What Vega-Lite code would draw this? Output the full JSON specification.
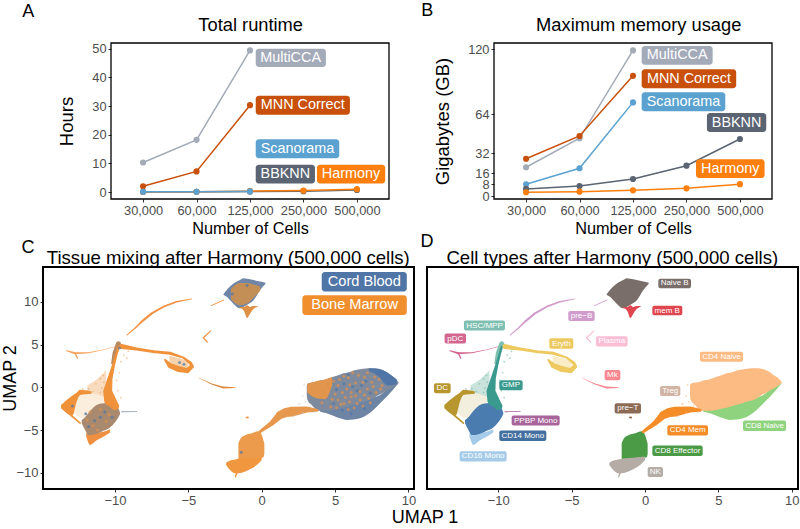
{
"$schema":"https://vega.github.io/schema/vega-lite/v6.json",
"width":800,"height":529,"autosize":"none","padding":0,
"config":{"font":"Liberation Sans","view":{"stroke":null},"axis":{"grid":false,"domain":false,"tickColor":"#333333","tickSize":3,"labelColor":"#4d4d4d","titleColor":"#000000","titleFontWeight":"normal","labelOverlap":false}},
"background":"white",
"datasets":{
"umapAreas":[
{"r":"Fan","x":-11.9,"y":0.2,"y2":-0.5},{"r":"Fan","x":-11.2,"y":1.0,"y2":-1.1},{"r":"Fan","x":-10.6,"y":2.0,"y2":-1.1},
{"r":"Inner","x":-12.8,"y":-1.0,"y2":-3.0},{"r":"Inner","x":-12.2,"y":-0.6,"y2":-3.6},{"r":"Inner","x":-11.5,"y":-0.7,"y2":-3.2},{"r":"Inner","x":-11,"y":-1,"y2":-2.2},{"r":"Inner","x":-10.7,"y":-1.2,"y2":-1.6},
{"r":"EryIn","x":-6.3,"y":3.7,"y2":2.9},{"r":"EryIn","x":-5.6,"y":3.4,"y2":2.4},{"r":"EryIn","x":-5,"y":3.0,"y2":2.2},
{"r":"DC","x":-13.68,"y":-2.07,"y2":-2.46},{"r":"DC","x":-13.3,"y":-1.48,"y2":-3.0},{"r":"DC","x":-12.9,"y":-0.95,"y2":-3.3},{"r":"DC","x":-12.6,"y":-0.6,"y2":-1.6},{"r":"DC","x":-12.38,"y":-0.3,"y2":-0.9},{"r":"DC","x":-11.6,"y":-0.5,"y2":-0.75},
{"r":"CD16 Mono","x":-11.97,"y":-5.4,"y2":-5.7},{"r":"CD16 Mono","x":-11.7,"y":-5.3,"y2":-6.74},{"r":"CD16 Mono","x":-11.25,"y":-5.3,"y2":-6.2},{"r":"CD16 Mono","x":-10.8,"y":-5.2,"y2":-5.8},{"r":"CD16 Mono","x":-10.34,"y":-4.9,"y2":-5.3},
{"r":"CD14 Mono","x":-12.27,"y":-3.82,"y2":-4.21},{"r":"CD14 Mono","x":-12.04,"y":-3.5,"y2":-4.99},{"r":"CD14 Mono","x":-11.81,"y":-3.0,"y2":-5.58},{"r":"CD14 Mono","x":-11.59,"y":-2.57,"y2":-5.58},{"r":"CD14 Mono","x":-11.25,"y":-2.07,"y2":-5.45},{"r":"CD14 Mono","x":-10.79,"y":-1.87,"y2":-5.1},{"r":"CD14 Mono","x":-10.34,"y":-1.83,"y2":-4.7},{"r":"CD14 Mono","x":-10,"y":-2.07,"y2":-4.1},{"r":"CD14 Mono","x":-9.77,"y":-2.46,"y2":-3.5},{"r":"CD14 Mono","x":-9.66,"y":-2.97,"y2":-3.12},
{"r":"Naive B","x":-2.61,"y":10.88,"y2":10.8},{"r":"Naive B","x":-2.39,"y":11.38,"y2":10.6},{"r":"Naive B","x":-2.05,"y":11.97,"y2":10.0},{"r":"Naive B","x":-1.7,"y":12.36,"y2":9.4},{"r":"Naive B","x":-1.48,"y":12.55,"y2":9.24},{"r":"Naive B","x":-1.25,"y":12.75,"y2":9.4},{"r":"Naive B","x":-1.02,"y":12.7,"y2":9.63},{"r":"Naive B","x":-0.57,"y":12.55,"y2":10.14},{"r":"Naive B","x":-0.11,"y":12.36,"y2":11.38},{"r":"Naive B","x":0.25,"y":12.24,"y2":12.09},
{"r":"mem B","x":-1.5,"y":9.3,"y2":9.4},{"r":"mem B","x":-1.2,"y":8.9,"y2":9.4},{"r":"mem B","x":-1,"y":8.1,"y2":9.6},{"r":"mem B","x":-0.8,"y":8.6,"y2":9.4},{"r":"mem B","x":-0.6,"y":9.1,"y2":9.5},{"r":"mem B","x":-0.3,"y":9.4,"y2":9.5},
{"r":"CD8 Naive","x":3.98,"y":-2.6,"y2":-2.85},{"r":"CD8 Naive","x":4.43,"y":-2.5,"y2":-3.04},{"r":"CD8 Naive","x":4.88,"y":-2.4,"y2":-3.32},{"r":"CD8 Naive","x":5.34,"y":-2.2,"y2":-3.63},{"r":"CD8 Naive","x":5.79,"y":-2.1,"y2":-3.82},{"r":"CD8 Naive","x":6.25,"y":-1.9,"y2":-3.78},{"r":"CD8 Naive","x":6.7,"y":-1.7,"y2":-3.63},{"r":"CD8 Naive","x":7.16,"y":-1.5,"y2":-3.24},{"r":"CD8 Naive","x":7.61,"y":-1.2,"y2":-2.65},{"r":"CD8 Naive","x":8.07,"y":-0.9,"y2":-1.87},{"r":"CD8 Naive","x":8.52,"y":-0.3,"y2":-1.1},{"r":"CD8 Naive","x":8.98,"y":0.2,"y2":-0.24},{"r":"CD8 Naive","x":9.32,"y":0.5,"y2":0.46},
{"r":"CD4 Naive","x":3.07,"y":0.2,"y2":-0.9},{"r":"CD4 Naive","x":3.12,"y":0.38,"y2":-1.49},{"r":"CD4 Naive","x":3.41,"y":0.55,"y2":-2.07},{"r":"CD4 Naive","x":3.75,"y":0.65,"y2":-2.65},{"r":"CD4 Naive","x":3.98,"y":0.78,"y2":-2.75},{"r":"CD4 Naive","x":4.43,"y":0.93,"y2":-2.75},{"r":"CD4 Naive","x":4.88,"y":1.24,"y2":-2.65},{"r":"CD4 Naive","x":5.11,"y":1.35,"y2":-2.54},{"r":"CD4 Naive","x":5.57,"y":1.63,"y2":-2.4},{"r":"CD4 Naive","x":6.02,"y":1.8,"y2":-2.15},{"r":"CD4 Naive","x":6.25,"y":1.95,"y2":-2.05},{"r":"CD4 Naive","x":6.93,"y":2.18,"y2":-1.68},{"r":"CD4 Naive","x":7.61,"y":2.22,"y2":-1.3},{"r":"CD4 Naive","x":7.84,"y":2.2,"y2":-1.02},{"r":"CD4 Naive","x":8.3,"y":1.95,"y2":-0.6},{"r":"CD4 Naive","x":8.52,"y":1.75,"y2":-0.39},{"r":"CD4 Naive","x":8.75,"y":1.44,"y2":-0.15},{"r":"CD4 Naive","x":8.98,"y":1.2,"y2":0.07},{"r":"CD4 Naive","x":9.09,"y":1.05,"y2":0.2},{"r":"CD4 Naive","x":9.32,"y":0.6,"y2":0.46},
{"r":"CD8 Effector","x":-1.59,"y":-6.55,"y2":-8.5},{"r":"CD8 Effector","x":-1.43,"y":-5.97,"y2":-8.5},{"r":"CD8 Effector","x":-1.13,"y":-5.62,"y2":-8.45},{"r":"CD8 Effector","x":-0.68,"y":-5.38,"y2":-8.35},{"r":"CD8 Effector","x":-0.23,"y":-5.15,"y2":-8.3},{"r":"CD8 Effector","x":0,"y":-5.58,"y2":-8.25},{"r":"CD8 Effector","x":0.11,"y":-6.16,"y2":-8.2},{"r":"CD8 Effector","x":0.18,"y":-6.6,"y2":-7.8},
{"r":"NK","x":-2.43,"y":-8.82,"y2":-9.09},{"r":"NK","x":-2.16,"y":-8.58,"y2":-9.67},{"r":"NK","x":-1.82,"y":-8.45,"y2":-10.06},{"r":"NK","x":-1.36,"y":-8.3,"y2":-9.99},{"r":"NK","x":-0.79,"y":-8.23,"y2":-9.6},{"r":"NK","x":-0.34,"y":-8.15,"y2":-9.1},{"r":"NK","x":0,"y":-8.11,"y2":-8.5}
],
"umapTrails":[
{"t":"preB1","r":"pre-B","o":1,"x":-4.77,"y":10.33,"w":0.8},{"t":"preB1","r":"pre-B","o":2,"x":-5.8,"y":10.0,"w":1.5},{"t":"preB1","r":"pre-B","o":3,"x":-6.7,"y":9.43,"w":1.8},{"t":"preB1","r":"pre-B","o":4,"x":-7.5,"y":8.65,"w":2.2},{"t":"preB1","r":"pre-B","o":5,"x":-8.18,"y":7.68,"w":2},{"t":"preB1","r":"pre-B","o":6,"x":-8.64,"y":6.9,"w":1.3},{"t":"preB1","r":"pre-B","o":7,"x":-9.2,"y":6.1,"w":0.8},
{"t":"preB2","r":"pre-B","o":1,"x":-3.45,"y":9.55,"w":0.8},{"t":"preB2","r":"pre-B","o":2,"x":-2.6,"y":10.2,"w":1},
{"t":"Plasma","r":"Plasma","o":1,"x":-3.48,"y":6.6,"w":1},{"t":"Plasma","r":"Plasma","o":2,"x":-3.98,"y":5.8,"w":1.3},{"t":"Plasma","r":"Plasma","o":3,"x":-3.68,"y":5.26,"w":1},
{"t":"Mk","r":"Mk","o":1,"x":-4.3,"y":1.1,"w":0.4},{"t":"Mk","r":"Mk","o":2,"x":-3.41,"y":0.39,"w":1},{"t":"Mk","r":"Mk","o":3,"x":-2.61,"y":-0.04,"w":2},{"t":"Mk","r":"Mk","o":4,"x":-1.82,"y":-0.04,"w":0.8},
{"t":"preT","r":"pre-T","o":1,"x":-1.05,"y":-3.55,"w":1.5},{"t":"preT","r":"pre-T","o":2,"x":-0.95,"y":-3.55,"w":2},
{"t":"pDC1","r":"pDC","o":1,"x":-13.3,"y":4.28,"w":1},{"t":"pDC1","r":"pDC","o":2,"x":-12.72,"y":3.98,"w":2},{"t":"pDC1","r":"pDC","o":3,"x":-11.8,"y":4.05,"w":1},{"t":"pDC1","r":"pDC","o":4,"x":-10.8,"y":4.4,"w":0.5},{"t":"pDC1","r":"pDC","o":5,"x":-9.9,"y":4.8,"w":0.5},
{"t":"pDC2","r":"pDC","o":1,"x":-12.72,"y":3.98,"w":1.5},{"t":"pDC2","r":"pDC","o":2,"x":-12.56,"y":3.39,"w":1.2},
{"t":"HSC","r":"HSC/MPP","o":1,"x":-9.77,"y":5.07,"w":5},{"t":"HSC","r":"HSC/MPP","o":2,"x":-10,"y":3.98,"w":5},{"t":"HSC","r":"HSC/MPP","o":3,"x":-10.2,"y":2.8,"w":2},
{"t":"GMP","r":"GMP","o":1,"x":-9.77,"y":4.75,"w":2},{"t":"GMP","r":"GMP","o":2,"x":-10.1,"y":2.61,"w":3},{"t":"GMP","r":"GMP","o":3,"x":-10.34,"y":1.05,"w":5},{"t":"GMP","r":"GMP","o":4,"x":-10.5,"y":-0.51,"w":9},{"t":"GMP","r":"GMP","o":5,"x":-10.34,"y":-1.49,"w":12},{"t":"GMP","r":"GMP","o":6,"x":-10,"y":-2.19,"w":8},
{"t":"Er1","r":"Eryth","o":1,"x":-9.55,"y":4.76,"w":5},{"t":"Er1","r":"Eryth","o":2,"x":-8.52,"y":4.48,"w":3},{"t":"Er1","r":"Eryth","o":3,"x":-7.39,"y":4.17,"w":3},{"t":"Er1","r":"Eryth","o":4,"x":-6.25,"y":3.98,"w":3},{"t":"Er1","r":"Eryth","o":5,"x":-5.34,"y":3.47,"w":2},{"t":"Er1","r":"Eryth","o":6,"x":-4.84,"y":2.81,"w":3},{"t":"Er1","r":"Eryth","o":7,"x":-4.77,"y":2.42,"w":4},
{"t":"Er2","r":"Eryth","o":1,"x":-6.59,"y":3.2,"w":2},{"t":"Er2","r":"Eryth","o":2,"x":-6.25,"y":2.53,"w":5},{"t":"Er2","r":"Eryth","o":3,"x":-5.68,"y":2.14,"w":6},{"t":"Er2","r":"Eryth","o":4,"x":-5.07,"y":1.95,"w":5},{"t":"Er2","r":"Eryth","o":5,"x":-4.77,"y":2.42,"w":4},
{"t":"PPBP","r":"PPBP Mono","o":1,"x":-9.55,"y":-2.85,"w":1},{"t":"PPBP","r":"PPBP Mono","o":2,"x":-8.5,"y":-2.85,"w":0.8},
{"t":"Mem","r":"CD4 Mem","o":1,"x":-0.11,"y":-5.19,"w":3},{"t":"Mem","r":"CD4 Mem","o":2,"x":0.68,"y":-4.21,"w":5},{"t":"Mem","r":"CD4 Mem","o":3,"x":1.25,"y":-3.24,"w":8},{"t":"Mem","r":"CD4 Mem","o":4,"x":1.65,"y":-2.95,"w":9},{"t":"Mem","r":"CD4 Mem","o":5,"x":2.05,"y":-2.85,"w":10},{"t":"Mem","r":"CD4 Mem","o":6,"x":3.07,"y":-2.6,"w":6},{"t":"Mem","r":"CD4 Mem","o":7,"x":3.75,"y":-2.7,"w":3},
{"t":"NKt","r":"NK","o":1,"x":-1.8,"y":-10.5,"w":1},{"t":"NKt","r":"NK","o":2,"x":-1.7,"y":-10,"w":2},
{"t":"DC2","r":"DC","o":1,"x":-13.4,"y":-2.7,"w":2},{"t":"DC2","r":"DC","o":2,"x":-12.38,"y":-4.2,"w":1.5}
],
"umapDots":[
{"r":"GMP","x":-11.8,"y":-0.2},{"r":"GMP","x":-11.3,"y":0.4},{"r":"GMP","x":-11,"y":-0.6},{"r":"GMP","x":-11,"y":1},{"r":"GMP","x":-10.9,"y":-0.1},{"r":"GMP","x":-10.8,"y":1.4},{"r":"GMP","x":-10.75,"y":0.6},{"r":"GMP","x":-11.5,"y":-0.5},{"r":"GMP","x":-12.2,"y":-0.2},{"r":"GMP","x":-9.4,"y":3.8},{"r":"GMP","x":-9.2,"y":3.4},{"r":"GMP","x":-9.1,"y":4.2},{"r":"GMP","x":-9.6,"y":3},{"r":"GMP","x":-9.7,"y":1.7},{"r":"GMP","x":-9.9,"y":0.8},{"r":"GMP","x":-9.8,"y":-0.4},{"r":"GMP","x":-9.6,"y":-1.2},
{"r":"CD4 Naive","x":2.8,"y":-1},{"r":"CD4 Naive","x":2.6,"y":-1.9},{"r":"CD4 Naive","x":2.9,"y":0.3},{"r":"CD4 Naive","x":3,"y":-1.7},{"r":"CD4 Naive","x":3.3,"y":-2.2},{"r":"CD4 Naive","x":3.6,"y":-2.9},{"r":"CD4 Naive","x":2.5,"y":-2},{"r":"CD4 Naive","x":2.2,"y":-3.4},{"r":"CD4 Naive","x":2.8,"y":-3}
],
"tissueAreas":[
{"p":"inner B","x":-2.1,"y":10.3,"y2":11.5},{"p":"inner B","x":-1.5,"y":9.6,"y2":12.2},{"p":"inner B","x":-1,"y":9.8,"y2":12.2},{"p":"inner B","x":-0.5,"y":10.6,"y2":12},{"p":"inner B","x":-0.1,"y":11.3,"y2":11.8},
{"p":"patch","x":3.1,"y":0.4,"y2":-0.6},{"p":"patch","x":3.6,"y":0.65,"y2":-1.2},{"p":"patch","x":4.3,"y":0.9,"y2":-1.4},{"p":"patch","x":4.8,"y":1.2,"y2":0.2},
{"p":"rim","x":7.3,"y":2.22,"y2":1.95},{"p":"rim","x":8,"y":2.15,"y2":1.2},{"p":"rim","x":8.6,"y":1.7,"y2":0.2},{"p":"rim","x":9.2,"y":0.9,"y2":0.35}
],
"cells":[
{"k":"o","x":4.2,"y":-0.5},{"k":"o","x":4.8,"y":-1.4},{"k":"o","x":5.2,"y":0.2},{"k":"o","x":5.4,"y":-2},{"k":"o","x":5.9,"y":1.1},{"k":"o","x":6.1,"y":-0.6},{"k":"o","x":6.4,"y":0.5},{"k":"o","x":6.7,"y":-1.5},{"k":"o","x":7,"y":1.2},{"k":"o","x":7.2,"y":-0.2},{"k":"o","x":7.5,"y":0.6},{"k":"o","x":7.8,"y":-0.6},{"k":"o","x":8,"y":0.9},{"k":"o","x":4.5,"y":0.3},{"k":"o","x":5,"y":-0.8},{"k":"o","x":5.7,"y":-1.2},{"k":"o","x":6.3,"y":-2.4},{"k":"o","x":6.9,"y":-2.2},{"k":"o","x":7.3,"y":-1.3},{"k":"o","x":5.8,"y":-0.2},{"k":"o","x":6.6,"y":1.4},{"k":"o","x":5.3,"y":0.9},{"k":"o","x":4.1,"y":-1.8},{"k":"o","x":4.7,"y":-2.3},{"k":"o","x":6,"y":-1.7},{"k":"o","x":6.4,"y":-1},{"k":"o","x":7.6,"y":0.1},{"k":"o","x":8.2,"y":0.2},
{"k":"o","x":4.4,"y":-1.1},{"k":"o","x":4.9,"y":0.7},{"k":"o","x":5.5,"y":-0.6},{"k":"o","x":5.6,"y":1.3},{"k":"o","x":6,"y":0.3},{"k":"o","x":6.2,"y":1.7},{"k":"o","x":6.7,"y":-0.5},{"k":"o","x":6.9,"y":0.6},{"k":"o","x":7.2,"y":1.7},{"k":"o","x":7.4,"y":-1.8},{"k":"o","x":7.7,"y":1.2},{"k":"o","x":8.1,"y":-0.2},{"k":"o","x":5.1,"y":-2.4},{"k":"o","x":5.9,"y":-2.6},{"k":"o","x":6.5,"y":-1.9},{"k":"o","x":5.2,"y":-1.5},{"k":"o","x":4.6,"y":-0.2},{"k":"o","x":5.6,"y":-1.9},{"k":"o","x":6.1,"y":-1.1},{"k":"o","x":7,"y":-0.9},
{"k":"b","x":5.1,"y":-0.3},{"k":"b","x":5.6,"y":0.4},{"k":"b","x":6.2,"y":0.1},{"k":"b","x":6.8,"y":0.2},{"k":"b","x":7.4,"y":-0.7},{"k":"b","x":4.9,"y":-1.9},{"k":"b","x":5.5,"y":-2.7},{"k":"b","x":6.1,"y":-3.1},{"k":"b","x":7,"y":-2.5},{"k":"b","x":6.5,"y":-0.4},{"k":"b","x":5.9,"y":1.5},{"k":"b","x":7.1,"y":0.7},
{"k":"o","x":-11.5,"y":-4.5},{"k":"o","x":-11,"y":-2.6},{"k":"o","x":-10.6,"y":-4},{"k":"o","x":-10.2,"y":-2.2},{"k":"o","x":-11.9,"y":-3.8},{"k":"o","x":-11.2,"y":-5},{"k":"o","x":-10.4,"y":-3.2},{"k":"o","x":-11.7,"y":-2.9},
{"k":"b","x":-11,"y":-3.5},{"k":"b","x":-11.4,"y":-3.9},{"k":"b","x":-10.7,"y":-2.9},{"k":"b","x":-10.2,"y":-3.5},{"k":"b","x":-11.8,"y":-4.6},{"k":"b","x":-12,"y":-3.1},{"k":"b","x":-12.9,"y":-2.2},{"k":"b","x":-9.7,"y":4.6},{"k":"b","x":-5.3,"y":2.7},{"k":"b","x":-5.6,"y":2.9},{"k":"b","x":-1.4,"y":-7.6},{"k":"b","x":-1,"y":11.9},{"k":"b","x":-2,"y":10.9}
]
},
"layer":[
{"encoding":{
 "x":{"field":"x","type":"quantitative","title":"Number of Cells","scale":{"domain":[-0.6,4.6],"range":[111,389],"nice":false,"zero":false},"axis":{"offset":-330,"values":[0,1,2,3,4],"labelExpr":"['30,000','60,000','125,000','250,000','500,000'][datum.value]","labelFontSize":12.8,"titleFontSize":16.3,"titlePadding":4,"orient":"bottom"}},
 "y":{"field":"y","type":"quantitative","title":"Hours","scale":{"domain":[-2.44,52],"range":[199,43],"nice":false,"zero":false},"axis":{"offset":-111,"values":[0,10,20,30,40,50],"labelFontSize":12.8,"titleFontSize":18.5,"titlePadding":15,"orient":"left"}}},
 "layer":[
 {"data":{"values":[{"x":-0.6,"x2":4.6,"y":-2.44,"y2":52}]},"mark":{"type":"rect","filled":false,"stroke":"#000000","strokeWidth":1.3},"encoding":{"x2":{"field":"x2"},"y2":{"field":"y2"}}},
 {"data":{"name":"runtime","values":[
 {"method":"MultiCCA","x":0,"y":10.3},{"method":"MultiCCA","x":1,"y":18.2},{"method":"MultiCCA","x":2,"y":49.4},
 {"method":"MNN Correct","x":0,"y":2},{"method":"MNN Correct","x":1,"y":7.2},{"method":"MNN Correct","x":2,"y":30.3},
 {"method":"BBKNN","x":0,"y":0},{"method":"BBKNN","x":1,"y":0.1},{"method":"BBKNN","x":2,"y":0.2},{"method":"BBKNN","x":3,"y":0.3},{"method":"BBKNN","x":4,"y":0.7},
 {"method":"Harmony","x":0,"y":0.05},{"method":"Harmony","x":1,"y":0.1},{"method":"Harmony","x":2,"y":0.3},{"method":"Harmony","x":3,"y":0.5},{"method":"Harmony","x":4,"y":1.0},
 {"method":"Scanorama","x":0,"y":0.1},{"method":"Scanorama","x":1,"y":0.1},{"method":"Scanorama","x":2,"y":0.2}]},
 "mark":{"type":"line","strokeWidth":1.5},"encoding":{"color":{"field":"method","type":"nominal","legend":null,"scale":{"domain":["MultiCCA","MNN Correct","BBKNN","Harmony","Scanorama"],"range":["#a3abb9","#c8500a","#5a6472","#ff7f0e","#5ba2d0"]}}}},
 {"data":{"name":"runtime"},"mark":{"type":"point","filled":true,"opacity":1,"size":38},"encoding":{"color":{"field":"method","type":"nominal","legend":null,"scale":{"domain":["MultiCCA","MNN Correct","BBKNN","Harmony","Scanorama"],"range":["#a3abb9","#c8500a","#5a6472","#ff7f0e","#5ba2d0"]}}}},
 {"data":{"values":[{"method":"MultiCCA","x":2.107,"x2":3.42,"y":50,"y2":43.6},{"method":"MNN Correct","x":2.107,"x2":3.869,"y":33.6,"y2":27},{"method":"Scanorama","x":2.107,"x2":3.669,"y":18.4,"y2":11.8},{"method":"BBKNN","x":2.107,"x2":3.215,"y":9.5,"y2":3},{"method":"Harmony","x":3.252,"x2":4.529,"y":9.5,"y2":3}]},
 "mark":{"type":"rect","cornerRadius":3},"encoding":{"x2":{"field":"x2"},"y2":{"field":"y2"},"color":{"field":"method","type":"nominal","legend":null,"scale":{"domain":["MultiCCA","MNN Correct","BBKNN","Harmony","Scanorama"],"range":["#a3abb9","#c8500a","#5a6472","#ff7f0e","#5ba2d0"]}}}},
 {"data":{"values":[{"t":"MultiCCA","x":2.76,"y":46.8},{"t":"MNN Correct","x":2.988,"y":30.3},{"t":"Scanorama","x":2.888,"y":15.1},{"t":"BBKNN","x":2.661,"y":6.25},{"t":"Harmony","x":3.89,"y":6.25}]},"mark":{"type":"text","fontSize":14.4,"color":"white"},"encoding":{"text":{"field":"t"}}},
 {"data":{"values":[{"t":"Total runtime","x":2.013,"y":57.9}]},"mark":{"type":"text","fontSize":18.3,"color":"black"},"encoding":{"text":{"field":"t"}}},
 {"data":{"values":[{"t":"A","x":-2.15,"y":62.8}]},"mark":{"type":"text","fontSize":18,"color":"black"},"encoding":{"text":{"field":"t"}}}
 ]},
{"encoding":{
 "x":{"field":"x","type":"quantitative","title":"Number of Cells","scale":{"domain":[-0.6,4.6],"range":[494,772],"nice":false,"zero":false},"axis":{"offset":-330,"values":[0,1,2,3,4],"labelExpr":"['30,000','60,000','125,000','250,000','500,000'][datum.value]","labelFontSize":12.8,"titleFontSize":16.3,"titlePadding":4,"orient":"bottom"}},
 "y":{"field":"y","type":"quantitative","title":"Gigabytes (GB)","scale":{"type":"pow","exponent":0.93,"domain":[-1.83,125.5],"range":[199,43],"nice":false,"zero":false},"axis":{"offset":-494,"values":[0,8,16,32,64,120],"labelFontSize":12.8,"titleFontSize":18.5,"titlePadding":15,"orient":"left"}}},
 "layer":[
 {"data":{"values":[{"x":-0.6,"x2":4.6,"y":-1.83,"y2":125.5}]},"mark":{"type":"rect","filled":false,"stroke":"#000000","strokeWidth":1.3},"encoding":{"x2":{"field":"x2"},"y2":{"field":"y2"}}},
 {"data":{"name":"memory","values":[
 {"method":"MultiCCA","x":0,"y":20.8},{"method":"MultiCCA","x":1,"y":44},{"method":"MultiCCA","x":2,"y":119},
 {"method":"MNN Correct","x":0,"y":27.5},{"method":"MNN Correct","x":1,"y":45.9},{"method":"MNN Correct","x":2,"y":96.8},
 {"method":"Scanorama","x":0,"y":7.9},{"method":"Scanorama","x":1,"y":20},{"method":"Scanorama","x":2,"y":74},
 {"method":"BBKNN","x":0,"y":4.6},{"method":"BBKNN","x":1,"y":6.7},{"method":"BBKNN","x":2,"y":11.8},{"method":"BBKNN","x":3,"y":22},{"method":"BBKNN","x":4,"y":43.4},
 {"method":"Harmony","x":0,"y":2.3},{"method":"Harmony","x":1,"y":2.7},{"method":"Harmony","x":2,"y":3.6},{"method":"Harmony","x":3,"y":5},{"method":"Harmony","x":4,"y":8}]},
 "mark":{"type":"line","strokeWidth":1.5},"encoding":{"color":{"field":"method","type":"nominal","legend":null,"scale":{"domain":["MultiCCA","MNN Correct","Scanorama","BBKNN","Harmony"],"range":["#a3abb9","#c8500a","#5ba2d0","#5a6472","#ff7f0e"]}}}},
 {"data":{"name":"memory"},"mark":{"type":"point","filled":true,"opacity":1,"size":38},"encoding":{"color":{"field":"method","type":"nominal","legend":null,"scale":{"domain":["MultiCCA","MNN Correct","Scanorama","BBKNN","Harmony"],"range":["#a3abb9","#c8500a","#5ba2d0","#5a6472","#ff7f0e"]}}}},
 {"data":{"values":[{"method":"MultiCCA","x":2.162,"x2":3.49,"y":122.8,"y2":106.5},{"method":"MNN Correct","x":2.162,"x2":3.93,"y":102.5,"y2":86},{"method":"Scanorama","x":2.162,"x2":3.726,"y":82.6,"y2":66.5},{"method":"BBKNN","x":3.383,"x2":4.492,"y":65,"y2":49.2},{"method":"Harmony","x":3.178,"x2":4.461,"y":27,"y2":12.5}]},
 "mark":{"type":"rect","cornerRadius":3},"encoding":{"x2":{"field":"x2"},"y2":{"field":"y2"},"color":{"field":"method","type":"nominal","legend":null,"scale":{"domain":["MultiCCA","MNN Correct","Scanorama","BBKNN","Harmony"],"range":["#a3abb9","#c8500a","#5ba2d0","#5a6472","#ff7f0e"]}}}},
 {"data":{"values":[{"t":"MultiCCA","x":2.826,"y":114.7},{"t":"MNN Correct","x":3.046,"y":94.2},{"t":"Scanorama","x":2.944,"y":74.6},{"t":"BBKNN","x":3.938,"y":57},{"t":"Harmony","x":3.82,"y":19.7}]},"mark":{"type":"text","fontSize":14.4,"color":"white"},"encoding":{"text":{"field":"t"}}},
 {"data":{"values":[{"t":"Maximum memory usage","x":2.107,"y":140.5}]},"mark":{"type":"text","fontSize":18.3,"color":"black"},"encoding":{"text":{"field":"t"}}},
 {"data":{"values":[{"t":"B","x":-1.85,"y":153.9}]},"mark":{"type":"text","fontSize":18,"color":"black"},"encoding":{"text":{"field":"t"}}}
 ]},
{"encoding":{
 "x":{"field":"x","type":"quantitative","title":null,"scale":{"domain":[-14.91,10.38],"range":[43,414],"nice":false,"zero":false},"axis":{"offset":-40,"values":[-10,-5,0,5,10],"labelFontSize":13,"orient":"bottom"}},
 "y":{"field":"y","type":"quantitative","stack":null,"title":"UMAP 2","scale":{"domain":[-11.9,14.07],"range":[489,267],"nice":false,"zero":false},"axis":{"offset":-43,"values":[-10,-5,0,5,10],"labelFontSize":13,"titleFontSize":18,"titlePadding":-4,"orient":"left"}}},
 "resolve":{"scale":{"color":"independent"}},
 "layer":[
 {"data":{"name":"umapAreas"},"mark":{"type":"area","interpolate":"monotone"},"encoding":{"y2":{"field":"y2"},"color":{"field":"r","type":"nominal","legend":null,"scale":{"domain":["Fan","Inner","EryIn","DC","CD16 Mono","CD14 Mono","Naive B","mem B","CD8 Naive","CD4 Naive","CD8 Effector","NK"],"range":["#f9dcc0","#fbeedd","#f7d3ad","#f0923a","#ee9040","#a98a6f","#6f86a8","#e08f45","#6d84a5","#7f8a9c","#ec9a4c","#f0973f"]}}}},
 {"data":{"name":"umapTrails"},"mark":{"type":"trail"},"encoding":{"detail":{"field":"t"},"order":{"field":"o"},"size":{"field":"w","type":"quantitative","scale":null},"color":{"field":"r","type":"nominal","legend":null,"scale":{"domain":["pre-B","Plasma","Mk","pre-T","pDC","HSC/MPP","GMP","Eryth","PPBP Mono","CD4 Mem","NK","DC"],"range":["#f09040","#f09040","#e0893f","#f09040","#f4a25a","#b98a60","#f0923a","#f0923a","#8ea0b8","#e6984f","#f0973f","#f0923a"]}}}},
 {"data":{"name":"umapDots"},"mark":{"type":"point","filled":true,"size":3,"opacity":0.6},"encoding":{"color":{"field":"r","type":"nominal","legend":null,"scale":{"domain":["GMP","CD4 Naive"],"range":["#f0a35c","#c9d0d8"]}}}},
 {"data":{"name":"tissueAreas"},"mark":{"type":"area","interpolate":"monotone"},"encoding":{"y2":{"field":"y2"},"color":{"field":"p","type":"nominal","legend":null,"scale":{"domain":["inner B","patch","rim"],"range":["#c48f56","#e2954c","#4f76a6"]}}}},
 {"data":{"name":"cells"},"mark":{"type":"point","filled":true,"size":9,"opacity":0.7},"encoding":{"color":{"field":"k","type":"nominal","legend":null,"scale":{"domain":["o","b"],"range":["#e2924a","#4f76a6"]}}}},
 {"data":{"values":[{"x":-14.91,"x2":10.38,"y":-11.9,"y2":14.07}]},"mark":{"type":"rect","filled":false,"stroke":"#000000","strokeWidth":2},"encoding":{"x2":{"field":"x2"},"y2":{"field":"y2"}}},
 {"data":{"values":[{"k":"Cord Blood","x":4.09,"x2":9.89,"y":13.49,"y2":11.19},{"k":"Bone Marrow","x":2.77,"x2":9.89,"y":10.76,"y2":8.46}]},"mark":{"type":"rect","cornerRadius":3},"encoding":{"x2":{"field":"x2"},"y2":{"field":"y2"},"color":{"field":"k","type":"nominal","legend":null,"scale":{"domain":["Cord Blood","Bone Marrow"],"range":["#4f76a6","#f18f2e"]}}}},
 {"data":{"values":[{"t":"Cord Blood","x":6.99,"y":12.34},{"t":"Bone Marrow","x":6.33,"y":9.61}]},"mark":{"type":"text","fontSize":14.6,"color":"white"},"encoding":{"text":{"field":"t"}}},
 {"data":{"values":[{"t":"Tissue mixing after Harmony (500,000 cells)","x":-2.28,"y":15.16}]},"mark":{"type":"text","fontSize":18.6,"color":"black"},"encoding":{"text":{"field":"t"}}},
 {"data":{"values":[{"t":"C","x":-15.93,"y":16.29}]},"mark":{"type":"text","fontSize":18,"color":"black"},"encoding":{"text":{"field":"t"}}},
 {"data":{"values":[{"t":"UMAP 1","x":11.13,"y":-15.29}]},"mark":{"type":"text","fontSize":18,"color":"black"},"encoding":{"text":{"field":"t"}}}
 ]},
{"encoding":{
 "x":{"field":"x","type":"quantitative","title":null,"scale":{"domain":[-14.86,10.43],"range":[427,798],"nice":false,"zero":false},"axis":{"offset":-40,"values":[-10,-5,0,5,10],"labelFontSize":13,"orient":"bottom"}},
 "y":{"field":"y","type":"quantitative","stack":null,"title":null,"scale":{"domain":[-11.9,14.07],"range":[489,267],"nice":false,"zero":false},"axis":null}},
 "resolve":{"scale":{"color":"independent"}},
 "layer":[
 {"data":{"name":"umapAreas"},"mark":{"type":"area","interpolate":"monotone"},"encoding":{"y2":{"field":"y2"},"color":{"field":"r","type":"nominal","legend":null,"scale":{"domain":["Fan","Inner","EryIn","DC","CD16 Mono","CD14 Mono","Naive B","mem B","CD8 Naive","CD4 Naive","CD8 Effector","NK"],"range":["#c9e3dc","#f3efde","#f8edc6","#b8962e","#a6cbe8","#4a7cb0","#7a6e6a","#e0464f","#8fd37f","#fdbb84","#4b9a45","#b5aca6"]}}}},
 {"data":{"name":"umapTrails"},"mark":{"type":"trail"},"encoding":{"detail":{"field":"t"},"order":{"field":"o"},"size":{"field":"w","type":"quantitative","scale":null},"color":{"field":"r","type":"nominal","legend":null,"scale":{"domain":["pre-B","Plasma","Mk","pre-T","pDC","HSC/MPP","GMP","Eryth","PPBP Mono","CD4 Mem","NK","DC"],"range":["#d09ccc","#f9bdd4","#f8878f","#8c6b55","#d3658e","#7fbfb1","#3b9a8e","#edc95f","#a8659a","#f48d27","#b5aca6","#b8962e"]}}}},
 {"data":{"name":"umapDots"},"mark":{"type":"point","filled":true,"size":3,"opacity":0.7},"encoding":{"color":{"field":"r","type":"nominal","legend":null,"scale":{"domain":["GMP","CD4 Naive"],"range":["#7fbfb1","#fdbb84"]}}}},
 {"data":{"values":[{"x":-14.86,"x2":10.43,"y":-11.9,"y2":14.07}]},"mark":{"type":"rect","filled":false,"stroke":"#000000","strokeWidth":2},"encoding":{"x2":{"field":"x2"},"y2":{"field":"y2"}}},
 {"data":{"values":[
 {"r":"Naive B","x":0.909,"x2":3.136,"y":12.71,"y2":11.58},{"r":"mem B","x":0.5,"x2":2.545,"y":9.55,"y2":8.42},{"r":"pre-B","x":-5.227,"x2":-3.432,"y":8.93,"y2":7.76},{"r":"Plasma","x":-3.341,"x2":-1.182,"y":5.96,"y2":4.76},{"r":"HSC/MPP","x":-12.34,"x2":-9.545,"y":7.8,"y2":6.63},{"r":"pDC","x":-13.66,"x2":-12.2,"y":6.28,"y2":5.11},{"r":"Eryth","x":-6.523,"x2":-4.886,"y":5.73,"y2":4.52},{"r":"CD4 Naive","x":3.75,"x2":6.682,"y":4.17,"y2":3.0},{"r":"Mk","x":-2.75,"x2":-1.682,"y":2.03,"y2":0.82},{"r":"GMP","x":-9.932,"x2":-8.341,"y":0.82,"y2":-0.35},{"r":"DC","x":-14.386,"x2":-13.25,"y":0.47,"y2":-0.7},{"r":"Treg","x":1.023,"x2":2.409,"y":0.16,"y2":-1.01},{"r":"pre-T","x":-2.068,"x2":-0.273,"y":-1.87,"y2":-3.08},{"r":"PPBP Mono","x":-9.09,"x2":-5.818,"y":-3.31,"y2":-4.48},{"r":"CD14 Mono","x":-9.932,"x2":-6.727,"y":-5.07,"y2":-6.28},{"r":"CD4 Mem","x":1.523,"x2":4.295,"y":-4.44,"y2":-5.65},{"r":"CD8 Naive","x":6.682,"x2":9.614,"y":-3.9,"y2":-5.11},{"r":"CD8 Effector","x":0.5,"x2":3.932,"y":-6.82,"y2":-8.03},{"r":"CD16 Mono","x":-12.636,"x2":-9.432,"y":-7.49,"y2":-8.69},{"r":"NK","x":0.182,"x2":1.227,"y":-9.32,"y2":-10.49}]},
 "mark":{"type":"rect","cornerRadius":2},"encoding":{"x2":{"field":"x2"},"y2":{"field":"y2"},"color":{"field":"r","type":"nominal","legend":null,"scale":{"domain":["Naive B","mem B","pre-B","Plasma","HSC/MPP","pDC","Eryth","CD4 Naive","Mk","GMP","DC","Treg","pre-T","PPBP Mono","CD14 Mono","CD4 Mem","CD8 Naive","CD8 Effector","CD16 Mono","NK"],"range":["#7a6e6a","#e0464f","#d09ccc","#f9bdd4","#7fbfb1","#d3658e","#edc95f","#fdbb84","#f8878f","#3b9a8e","#b8962e","#d2b4a4","#8c6b55","#a8659a","#44709f","#f48d27","#8fd37f","#4b9a45","#a6cbe8","#b5aca6"]}}}},
 {"data":{"values":[
 {"t":"Naive B","x":2.02,"y":12.15},{"t":"mem B","x":1.52,"y":8.98},{"t":"pre\u2212B","x":-4.33,"y":8.35},{"t":"Plasma","x":-2.26,"y":5.36},{"t":"HSC/MPP","x":-10.94,"y":7.21},{"t":"pDC","x":-12.93,"y":5.69},{"t":"Eryth","x":-5.7,"y":5.12},{"t":"CD4 Naive","x":5.22,"y":3.58},{"t":"Mk","x":-2.22,"y":1.42},{"t":"GMP","x":-9.14,"y":0.23},{"t":"DC","x":-13.82,"y":-0.12},{"t":"Treg","x":1.72,"y":-0.43},{"t":"pre\u2212T","x":-1.17,"y":-2.48},{"t":"PPBP Mono","x":-7.45,"y":-3.9},{"t":"CD14 Mono","x":-8.33,"y":-5.68},{"t":"CD4 Mem","x":2.91,"y":-5.05},{"t":"CD8 Naive","x":8.15,"y":-4.51},{"t":"CD8 Effector","x":2.22,"y":-7.43},{"t":"CD16 Mono","x":-11.03,"y":-8.09},{"t":"NK","x":0.7,"y":-9.91}]},
 "mark":{"type":"text","fontSize":8,"color":"white"},"encoding":{"text":{"field":"t"}}},
 {"data":{"values":[{"t":"Cell types after Harmony (500,000 cells)","x":-2.23,"y":15.16}]},"mark":{"type":"text","fontSize":18.6,"color":"black"},"encoding":{"text":{"field":"t"}}},
 {"data":{"values":[{"t":"D","x":-14.86,"y":17}]},"mark":{"type":"text","fontSize":18,"color":"black"},"encoding":{"text":{"field":"t"}}}
 ]}
],
"resolve":{"scale":{"x":"independent","y":"independent","color":"independent","size":"independent"},"axis":{"x":"independent","y":"independent"}}
}
